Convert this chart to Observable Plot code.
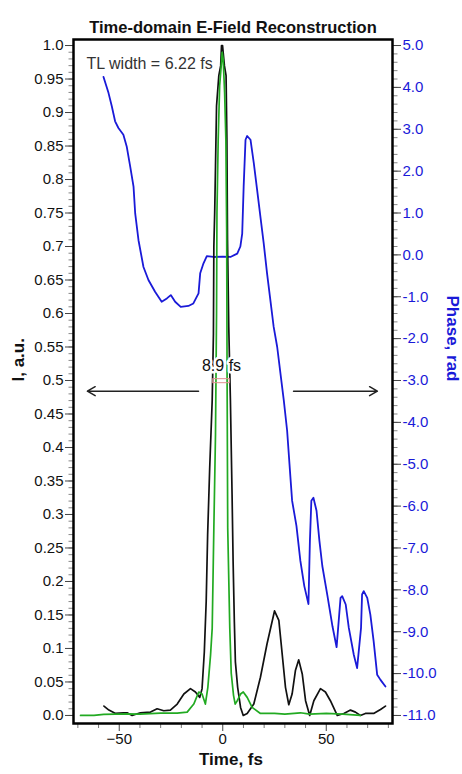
<!DOCTYPE html>
<html>
<head>
<meta charset="utf-8">
<script src="https://cdn.jsdelivr.net/npm/d3@7"></script>
<script src="https://cdn.jsdelivr.net/npm/@observablehq/plot@0.6"></script>
<style>
  html, body { margin: 0; padding: 0; background: #fff; }
  #chart svg { display: block; font-family: "Liberation Sans", Arial, sans-serif; }
</style>
</head>
<body>
<div id="chart"></div>
<script>
// ---- Data ----
// Retrieved pulse intensity: time (fs), intensity (a.u.)
const measuredT = [-57.4,-55,-51.8,-48,-46.2,-43.8,-39.8,-34.9,-31.7,-28.5,-25.3,-22,-18.8,-15.6,-13.2,-11.1,-10,-8.9,-8.0,-7.3,-6.3,-5.1,-4.5,-4.3,-3.9,-3.5,-3.0,-1.9,-1.0,-0.6,-0.1,0.8,1.6,2.0,2.3,2.9,3.7,4.5,5.0,5.6,6.1,7.2,8.6,9.9,11.8,15,18.2,21.4,25,27.1,28.7,30.3,31.9,33.5,35.1,36.7,38.4,40,42,44,47.2,49.6,52,55.3,58.5,61.7,64.1,66.5,68.9,72.9,76.2,78.6];
const measuredI = [0.014,0.008,0.003,0.004,0.004,0.0,0.004,0.005,0.010,0.007,0.008,0.017,0.032,0.040,0.035,0.027,0.040,0.095,0.17,0.27,0.37,0.47,0.57,0.70,0.75,0.82,0.91,0.955,0.97,1.0,1.0,0.97,0.955,0.86,0.71,0.58,0.47,0.33,0.23,0.14,0.08,0.042,0.012,0.0,0.003,0.017,0.057,0.107,0.156,0.142,0.092,0.042,0.016,0.032,0.067,0.083,0.062,0.022,0.0,0.022,0.040,0.035,0.022,0.0,0.003,0.008,0.005,0.0,0.003,0.003,0.009,0.014];

// Transform-limited pulse intensity
const tlT = [-68.7,-62.2,-57.5,-46.2,-40,-30.1,-22,-17.2,-14,-11.6,-10,-8.4,-7.2,-5.9,-5.1,-4.3,-3.5,-3.0,-2.8,-2.2,-1.5,-0.6,-0.3,0.2,0.9,1.5,1.9,2.1,2.4,3.4,4.1,5.2,6.0,7,8.6,9.9,11.8,14.2,18.2,25,30,37.5,42,50,58,66.5];
const tlI = [0,0,0.0015,0.0025,0.002,0.0035,0.0035,0.005,0.017,0.035,0.032,0.017,0.042,0.09,0.13,0.28,0.42,0.60,0.75,0.86,0.94,0.975,0.99,0.98,0.93,0.86,0.72,0.50,0.28,0.13,0.063,0.03,0.017,0.022,0.032,0.035,0.027,0.012,0.003,0.003,0.002,0.004,0.002,0.003,0.002,0];

// Temporal phase (rad)
const phaseT = [-57.6,-55.2,-53.6,-52,-50.4,-48,-46.4,-44.7,-43.1,-42.3,-40.7,-38.3,-35.9,-32.7,-29.5,-27,-25.1,-23,-20.3,-16.6,-14.2,-11.7,-10.9,-9.3,-7.7,-4.5,0,3.7,7,8.5,9.4,10.1,11,11.8,13.4,15,16.6,18.2,19.8,21.4,23,24.6,26.3,27.9,29.5,31.1,32.7,33.5,35.6,37.5,39.4,41.4,42.1,42.8,43.8,45.3,46.7,48.1,50.6,53,55,56.9,57.7,59.4,60.9,63.3,64.9,66.8,67.3,68.1,69.8,71.3,72.9,74.6,76.2,78.6];
const phaseV = [4.25,3.87,3.55,3.19,3.03,2.87,2.59,2.11,1.63,0.99,0.35,-0.29,-0.60,-0.88,-1.12,-1.04,-0.96,-1.12,-1.24,-1.22,-1.16,-0.92,-0.44,-0.20,-0.03,-0.05,-0.04,-0.05,0.03,0.2,0.51,1.63,2.75,2.84,2.75,2.19,1.55,0.91,0.27,-0.44,-1.08,-1.72,-2.20,-2.84,-3.48,-4.20,-5.32,-5.87,-6.47,-7.31,-7.91,-8.34,-6.83,-5.87,-5.80,-6.11,-6.83,-7.43,-8.15,-8.87,-9.37,-8.19,-8.15,-8.35,-8.91,-9.55,-9.87,-8.91,-8.11,-8.03,-8.19,-8.59,-9.23,-10.03,-10.15,-10.31];

// Tick labels
const xTicks = [-50, 0, 50];
const xMinorTicks = [-70,-60,-40,-30,-20,-10,10,20,30,40,60,70,80];
const iTicks = [0,0.05,0.1,0.15,0.2,0.25,0.3,0.35,0.4,0.45,0.5,0.55,0.6,0.65,0.7,0.75,0.8,0.85,0.9,0.95,1.0];
const phaseTicks = [5,4,3,2,1,0,-1,-2,-3,-4,-5,-6,-7,-8,-9,-10,-11];

// Annotations
const fwhmLabel = "8.9 fs";
const fwhmRange = [-4.6, 3.4];
const tlLabel = "TL width = 6.22 fs";

// ---- Build tables ----
const measured = measuredT.map((t, i) => ({t, v: measuredI[i]}));
const tl = tlT.map((t, i) => ({t, v: tlI[i]}));
// phase axis spans -11..5 over the same height as intensity 0..1
const phaseMin = -11, phaseMax = 5;
const toI = p => (p - phaseMin) / (phaseMax - phaseMin);
const fromI = v => v * (phaseMax - phaseMin) + phaseMin;
const phase = phaseT.map((t, i) => ({t, v: toI(phaseV[i])}));

const iMinor = d3.range(0, 1.0001, 0.01).map(d => +d.toFixed(2));
const phaseMinor = d3.range(phaseMin, phaseMax + 0.0001, 0.2).map(p => toI(+p.toFixed(1)));

const blue = "#1a1ad8";
const font = "Liberation Sans, Arial, sans-serif";

const chart = Plot.plot({
  width: 462,
  height: 774,
  marginLeft: 73,
  marginRight: 70,
  marginTop: 39,
  marginBottom: 51,
  style: {fontFamily: font, background: "#fff", overflow: "visible"},
  x: {domain: [-72.1, 82], label: null},
  y: {domain: [-0.012, 1.009], label: null},
  marks: [
    // minor ticks
    Plot.axisX(xMinorTicks, {tickSize: 5, stroke: "#777", tickFormat: () => "", label: null}),
    Plot.axisY(iMinor, {anchor: "left", tickSize: 4.5, stroke: "#888", tickFormat: () => "", label: null}),
    Plot.axisY(phaseMinor, {anchor: "right", tickSize: 4.5, stroke: "#888", tickFormat: () => "", label: null}),
    // major ticks with labels
    Plot.axisX(xTicks, {tickSize: 8, tickPadding: 2, stroke: "#444", fontSize: 15, fill: "#111", label: null}),
    Plot.axisY(iTicks, {anchor: "left", tickSize: 8, tickPadding: 2, stroke: "#444", fontSize: 15, fill: "#111", label: null,
      tickFormat: d => d === 0 ? "0.0" : d === 1 ? "1.0" : String(+d.toFixed(2))}),
    Plot.axisY(phaseTicks.map(toI), {anchor: "right", tickSize: 8, tickPadding: 2, stroke: "#444", fontSize: 15, fill: blue, label: null,
      tickFormat: d => Math.round(fromI(d)).toFixed(1)}),
    // curves
    Plot.line(phase, {x: "t", y: "v", stroke: blue, strokeWidth: 1.8}),
    Plot.line(measured, {x: "t", y: "v", stroke: "#111", strokeWidth: 1.7}),
    Plot.line(tl, {x: "t", y: "v", stroke: "#22aa22", strokeWidth: 1.7}),
    // FWHM marker
    Plot.rect([{x1: fwhmRange[0], x2: fwhmRange[1], y1: 0.496, y2: 0.502}], {x1: "x1", x2: "x2", y1: "y1", y2: "y2", fill: "none", stroke: "#e09090", strokeWidth: 1}),
    Plot.text([fwhmLabel], {x: -0.6, y: 0.522, text: d => d, fontSize: 16, fill: "#111", textAnchor: "middle", stroke: "#fff", strokeWidth: 5, paintOrder: "stroke"}),
    // axis-pointing arrows
    Plot.arrow([{x1: -11.7, x2: -65.4, y: 0.484}, {x1: 34.2, x2: 74.7, y: 0.484}], {x1: "x1", x2: "x2", y1: "y", y2: "y", stroke: "#222", strokeWidth: 1.5, headLength: 9}),
    Plot.text([tlLabel], {x: -65.8, y: 0.972, text: d => d, fontSize: 16, fill: "#333", textAnchor: "start"}),
    // frame
    Plot.frame({stroke: "#000", strokeWidth: 2.5}),
    // titles
    Plot.text(["Time-domain E-Field Reconstruction"], {frameAnchor: "top", dy: -18, text: d => d, fontSize: 16.5, fontWeight: "bold", fill: "#111"}),
    Plot.text(["Time, fs"], {frameAnchor: "bottom", dy: 41, dx: -2, text: d => d, fontSize: 17, fontWeight: "bold", fill: "#111"}),
    Plot.text(["I, a.u."], {frameAnchor: "left", dx: -55, rotate: -90, text: d => d, fontSize: 17, fontWeight: "bold", fill: "#111"}),
    Plot.text(["Phase, rad"], {frameAnchor: "right", dx: 60, rotate: 90, text: d => d, fontSize: 17, fontWeight: "bold", fill: blue})
  ]
});
document.getElementById("chart").appendChild(chart);
</script>
</body>
</html>
